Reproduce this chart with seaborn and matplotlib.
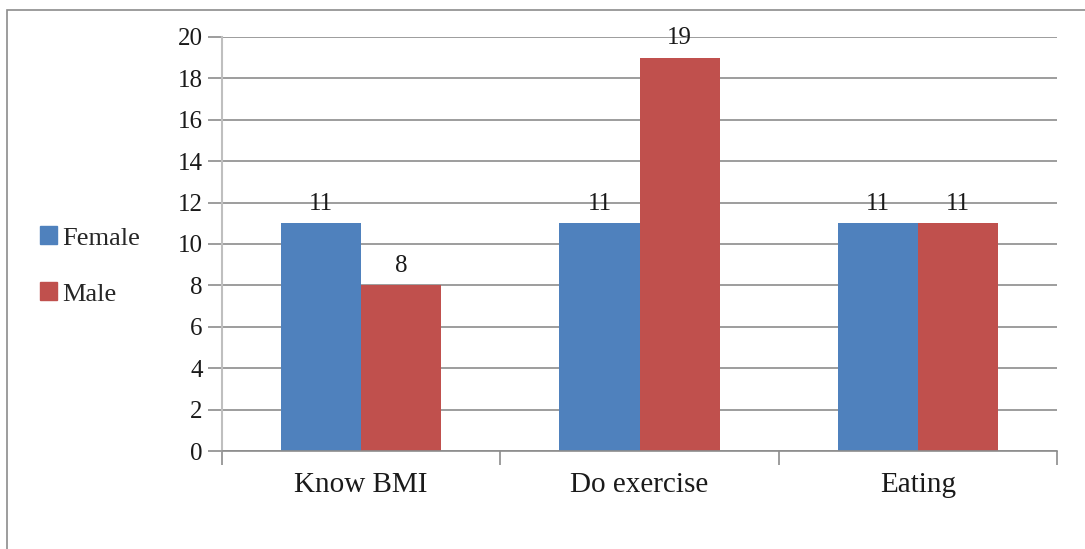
import pandas as pd
import seaborn as sns
import matplotlib.pyplot as plt
from matplotlib.patches import Rectangle

# Dados do gráfico
categorias = ['Know BMI', 'Do exercise', 'Eating']
female = [11, 11, 11]
male = [8, 19, 11]
series = ['Female', 'Male']
cores = ['#4F81BD', '#C0504D']

dados = pd.DataFrame({
    'categoria': categorias * 2,
    'valor': female + male,
    'sexo': [series[0]] * 3 + [series[1]] * 3,
})

sns.set_theme(style="white")
plt.rcParams['font.family'] = ['Liberation Serif', 'DejaVu Serif']

fig = plt.figure(figsize=(10.85, 5.49), dpi=100)
ax = fig.add_axes([222 / 1085, 1 - 451 / 549, (1057 - 222) / 1085, (451 - 37) / 549])

# Moldura externa do gráfico
fig.patches.append(Rectangle((7 / 1085, -0.05), 1.1, 1 - 10 / 549 + 0.05,
                             transform=fig.transFigure, fill=False,
                             edgecolor='#8C8C8C', linewidth=1.2))

sns.barplot(data=dados, x='categoria', y='valor', hue='sexo', palette=cores,
            width=0.575, saturation=1, ax=ax, legend=False)

for barra in ax.patches:
    barra.set_edgecolor('none')

# Rótulos de dados
for cont in ax.containers:
    ax.bar_label(cont, padding=6, fontsize=18, color='#1a1a1a')

ax.set_ylim(0, 20)
ax.set_xlim(-0.5, 2.5)
ax.set_yticks(range(0, 21, 2))
ax.yaxis.grid(True, color='#8C8C8C', linewidth=1.2)
ax.set_axisbelow(True)
ax.set_xlabel('')
ax.set_ylabel('')

ax.spines['top'].set_visible(False)
ax.spines['right'].set_visible(False)
ax.spines['left'].set_color('#BFBFBF')
ax.spines['left'].set_linewidth(1.5)
ax.spines['bottom'].set_color('#8C8C8C')
ax.spines['bottom'].set_linewidth(1.2)

# Ticks do eixo x nas fronteiras das categorias
ax.set_xticks([-0.5, 0.5, 1.5, 2.5])
ax.set_xticklabels([])
ax.set_xticks([0, 1, 2], minor=True)
ax.set_xticklabels(categorias, minor=True, fontsize=21, color='#1a1a1a')
ax.tick_params(axis='x', which='major', bottom=True, length=10, width=1.2,
               color='#8C8C8C', direction='out')
ax.tick_params(axis='x', which='minor', bottom=False, pad=11)
ax.tick_params(axis='y', left=True, length=10, width=1.2, color='#8C8C8C',
               labelsize=18, labelcolor='#1a1a1a', pad=4)

# Legenda à esquerda
handles = [Rectangle((0, 0), 1, 1, color=c) for c in cores]
fig.legend(handles, series, loc='center left', bbox_to_anchor=(29 / 1085, 1 - 266 / 549),
           frameon=False, fontsize=19, handlelength=0.65, handleheight=0.65,
           handletextpad=0.2, labelspacing=1.25, borderaxespad=0)

plt.savefig('out.png', dpi=100)
